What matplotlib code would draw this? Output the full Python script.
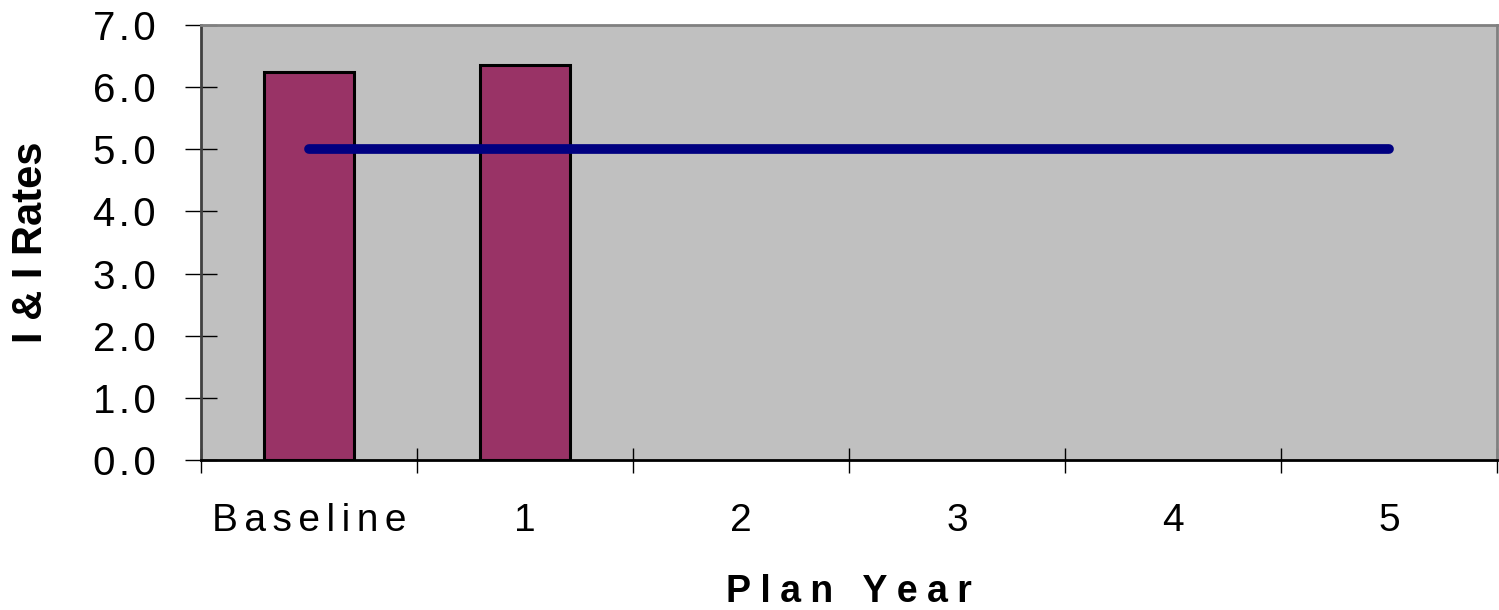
import numpy as np
import matplotlib.pyplot as plt
from matplotlib.ticker import FixedLocator, NullFormatter

plt.rcParams['font.family'] = ['Liberation Sans', 'DejaVu Sans']

categories = ['Baseline', '1', '2', '3', '4', '5']
rates = [6.25, 6.35, np.nan, np.nan, np.nan, np.nan]
target = [5.0, 5.0, 5.0, 5.0, 5.0, 5.0]
y_ticks = [0, 1, 2, 3, 4, 5, 6, 7]

hs = '\u200a'

def spaced(s, n=1):
    return (hs * n).join(s)

fig = plt.figure(figsize=(14.99, 6.10), dpi=100)
ax = fig.add_axes([201 / 1499, 1 - 460 / 610, 1296 / 1499, 435 / 610])
ax.set_facecolor('#C0C0C0')

x = np.arange(len(categories))
ax.bar(x, rates, width=0.42, color='#993366', edgecolor='black', linewidth=2.2, zorder=2)
ax.plot(x, target, color='#000080', linewidth=7, solid_capstyle='round', zorder=3)

ax.set_xlim(-0.5, len(categories) - 0.5)
ax.set_ylim(0, 7)

ax.xaxis.set_major_locator(FixedLocator(np.arange(-0.5, len(categories), 1.0)))
ax.xaxis.set_major_formatter(NullFormatter())
ax.xaxis.set_minor_locator(FixedLocator(x))
ax.set_xticklabels([spaced(c, 2) for c in categories], minor=True, fontsize=28)
ax.tick_params(axis='x', which='major', direction='inout', length=18, width=1, color='black')
ax.tick_params(axis='x', which='minor', length=0, pad=31)

ax.set_yticks(y_ticks)
ax.set_yticklabels([spaced(f'{v:.1f}') for v in y_ticks], fontsize=29)
ax.tick_params(axis='y', direction='inout', length=23, width=1, color='black', pad=21)

for side in ['top', 'right', 'left']:
    ax.spines[side].set_color('#808080')
    ax.spines[side].set_linewidth(2)
ax.spines['left'].set_color('#404040')
ax.spines['bottom'].set_color('black')
ax.spines['bottom'].set_linewidth(2)

ax.set_xlabel(spaced('Plan Year', 3), fontsize=27, fontweight='bold', labelpad=25)
ax.set_ylabel('I & I Rates', fontsize=30, fontweight='bold', labelpad=30)

fig.savefig('out.png', dpi=100)
